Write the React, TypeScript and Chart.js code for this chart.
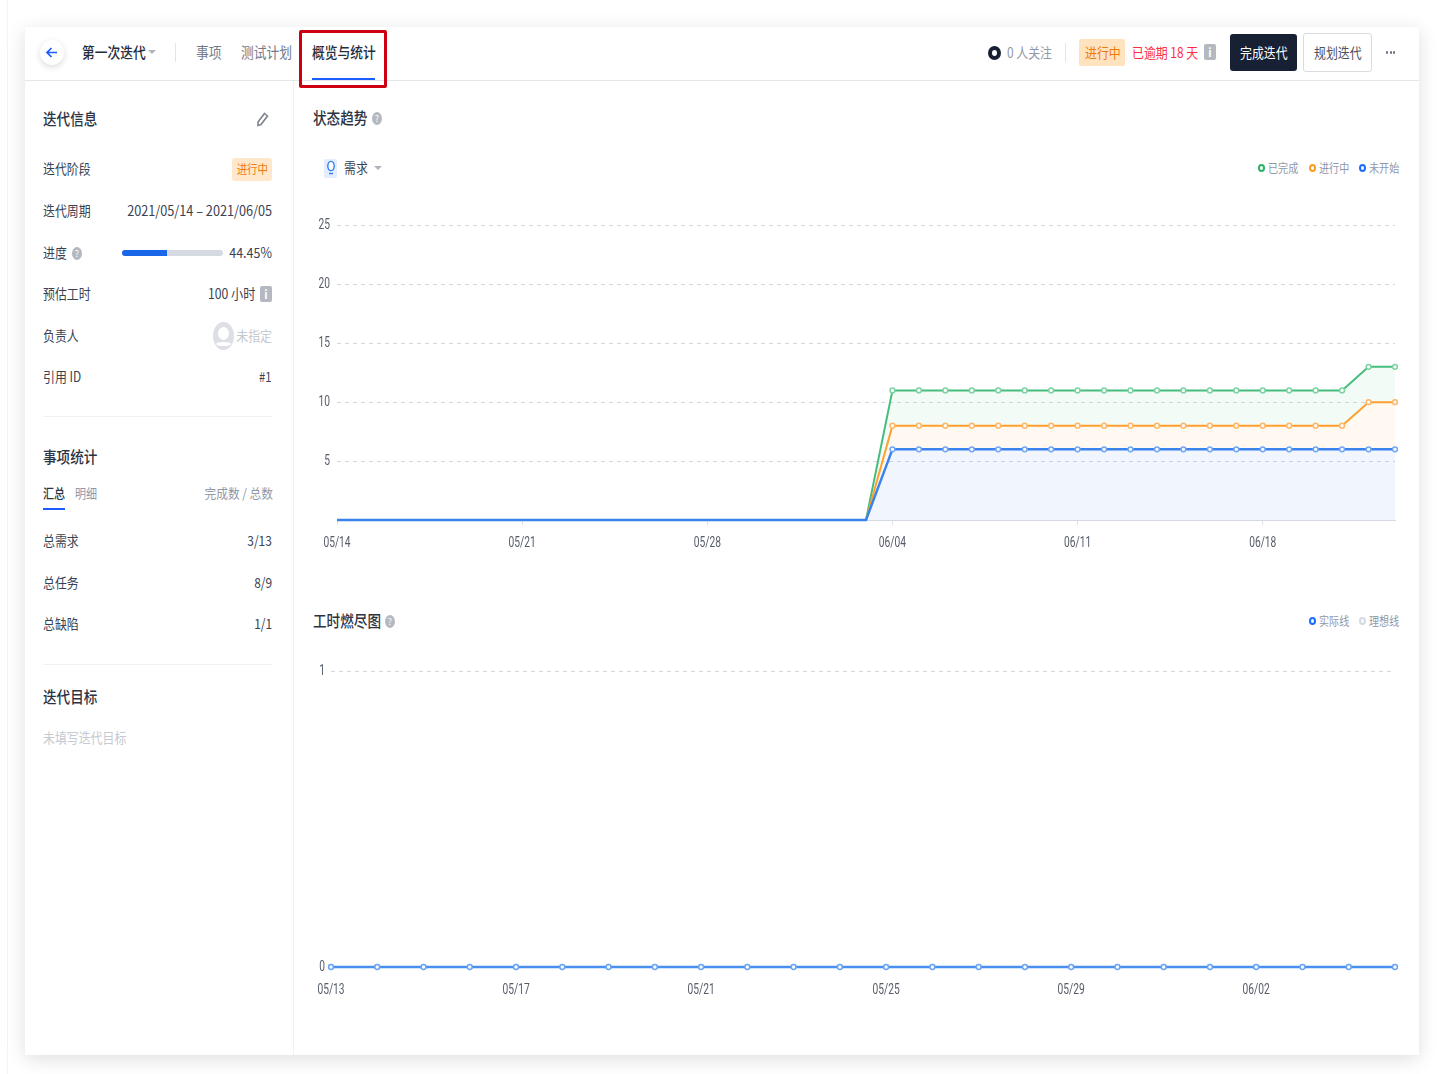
import React, { useEffect, useRef } from "react";
import { Chart, registerables } from "chart.js";

Chart.register(...registerables);

const trendDates = ["05/14","05/15","05/16","05/17","05/18","05/19","05/20","05/21","05/22","05/23","05/24","05/25","05/26","05/27","05/28","05/29","05/30","05/31","06/01","06/02","06/03","06/04","06/05","06/06","06/07","06/08","06/09","06/10","06/11","06/12","06/13","06/14","06/15","06/16","06/17","06/18","06/19","06/20","06/21","06/22","06/23"];
const trendTicks = ["05/14","05/21","05/28","06/04","06/11","06/18"];
const doneValues = [0,0,0,0,0,0,0,0,0,0,0,0,0,0,0,0,0,0,0,0,0,11,11,11,11,11,11,11,11,11,11,11,11,11,11,11,11,11,11,13,13];
const doingValues = [0,0,0,0,0,0,0,0,0,0,0,0,0,0,0,0,0,0,0,0,0,8,8,8,8,8,8,8,8,8,8,8,8,8,8,8,8,8,8,10,10];
const todoValues = [0,0,0,0,0,0,0,0,0,0,0,0,0,0,0,0,0,0,0,0,0,6,6,6,6,6,6,6,6,6,6,6,6,6,6,6,6,6,6,6,6];
const trendYTicks = [5,10,15,20,25];

const burnDates = ["05/13","05/14","05/15","05/16","05/17","05/18","05/19","05/20","05/21","05/22","05/23","05/24","05/25","05/26","05/27","05/28","05/29","05/30","05/31","06/01","06/02","06/03","06/04","06/05"];
const burnTicks = ["05/13","05/17","05/21","05/25","05/29","06/02"];
const actualValues = [0,0,0,0,0,0,0,0,0,0,0,0,0,0,0,0,0,0,0,0,0,0,0,0];
const idealValues = [0,0,0,0,0,0,0,0,0,0,0,0,0,0,0,0,0,0,0,0,0,0,0,0];

const infoRows = [
  { label: "迭代周期", y: 211, value: "2021/05/14 – 2021/06/05", k: 0.905 },
  { label: "引用 ID", y: 377, value: "#1", k: 0.8 },
];
const statRows = [
  { label: "总需求", y: 541, value: "3/13" },
  { label: "总任务", y: 583, value: "8/9" },
  { label: "总缺陷", y: 624, value: "1/1" },
];

const CJK = '"Noto Sans CJK SC", "Noto Sans", sans-serif';
const TICK_FONT = { family: "Roboto, sans-serif", size: 14 };
const TICK_SQUEEZE = 0.73;
const TICK_COLOR = "#555c68";
const GRID = "#d3d7df";

type TP = { x: number; y: number; right?: boolean; size?: number; color?: string; bold?: boolean; k?: number; children: React.ReactNode };
function T({ x, y, right, size = 14, color = "#3a4252", bold, k = 0.85, children }: TP) {
  const style: React.CSSProperties = {
    position: "absolute", top: y - 1, whiteSpace: "nowrap", fontFamily: CJK, fontSize: size, color,
    fontWeight: bold ? 500 : 400, lineHeight: 1,
    transform: `translateY(-50%) scaleX(${k})`,
    transformOrigin: right ? "right center" : "left center",
  };
  if (right) style.right = 1437 - x; else style.left = x;
  return <div style={style}>{children}</div>;
}

function Box({ x, y, w, h, style }: { x: number; y: number; w: number; h: number; style?: React.CSSProperties }) {
  return <div style={{ position: "absolute", left: x, top: y, width: w, height: h, boxSizing: "border-box", ...style }} />;
}
const Ring = ({ x, y, c, s = 7 }: { x: number; y: number; c: string; s?: number }) => (
  <Box x={x - s / 2} y={y - s / 2 - 0.5} w={s} h={s + 1} style={{ border: `2px solid ${c}`, borderRadius: "50%", background: "#fff" }} />
);
const Help = ({ x, y }: { x: number; y: number }) => (
  <div style={{ position: "absolute", left: x - 5, top: y - 6.5, width: 10, height: 13, borderRadius: "50%", background: "#b4b8c0", color: "#fff", fontSize: 9, lineHeight: "13px", textAlign: "center", fontFamily: CJK }}>?</div>
);
const Info = ({ x, y }: { x: number; y: number }) => (
  <div style={{ position: "absolute", left: x, top: y - 8, width: 12, height: 16, borderRadius: 2, background: "#b4b8c0", color: "#fff", fontSize: 11, lineHeight: "16px", textAlign: "center", fontFamily: CJK, fontWeight: 700 }}>i</div>
);
const Caret = ({ x, y }: { x: number; y: number }) => (
  <div style={{ position: "absolute", left: x - 4, top: y - 2, width: 0, height: 0, borderLeft: "4px solid transparent", borderRight: "4px solid transparent", borderTop: "4px solid #b0b5bd" }} />
);
const Line = ({ x, y, w, h, c }: { x: number; y: number; w: number; h: number; c: string }) => <Box x={x} y={y} w={w} h={h} style={{ background: c }} />;

function makeLine(label: string, data: number[], color: string, marker: string, fill: any, bg: string, hideZero: boolean, order: number, width = 2) {
  return {
    label, data, order, borderColor: color, borderWidth: width, tension: 0, fill, backgroundColor: bg,
    pointBackgroundColor: "#fff", pointBorderColor: marker, pointBorderWidth: 1.5,
    pointRadius: hideZero ? (c: any) => (c.parsed && c.parsed.y === 0 ? 0 : 2.4) : 2.4,
    clip: false as any,
  };
}

function useChart(build: () => any) {
  const ref = useRef<HTMLCanvasElement>(null);
  useEffect(() => {
    const ctx: any = ref.current!.getContext("2d");
    // the reference's type is condensed: narrow the tick labels around their anchor
    const fill = ctx.fillText.bind(ctx);
    ctx.fillText = (s: string, x: number, y: number) => {
      ctx.save();
      ctx.translate(x, y);
      ctx.scale(TICK_SQUEEZE, 1);
      fill(s, 0, 0);
      ctx.restore();
    };
    const chart = new Chart(ref.current!, build());
    return () => chart.destroy();
  }, []);
  return ref;
}

const baseOptions = {
  animation: false as const,
  responsive: false,
  plugins: { legend: { display: false }, tooltip: { enabled: false } },
};

function TrendChart() {
  const ref = useChart(() => ({
    type: "line",
    data: {
      labels: trendDates,
      datasets: [
        makeLine("已完成", doneValues, "#46bd7c", "#7bd3a2", "+1", "rgba(43,178,100,0.055)", true, 2),
        makeLine("进行中", doingValues, "#ffa02e", "#ffb765", "+1", "rgba(255,150,30,0.06)", true, 1),
        makeLine("未开始", todoValues, "#3a82ee", "#70a6f5", "origin", "rgba(50,125,235,0.075)", true, 0, 2.4),
      ],
    },
    options: {
      ...baseOptions,
      layout: { padding: { top: 11, right: 15 } },
      scales: {
        x: {
          afterBuildTicks: (s: any) => { s.ticks = s.ticks.filter((t: any) => trendTicks.includes(trendDates[t.value])); },
          afterFit: (s: any) => { s.height = 40; },
          ticks: { autoSkip: false, maxRotation: 0, color: TICK_COLOR, font: TICK_FONT, padding: 10 },
          grid: { drawOnChartArea: false, drawTicks: true, tickLength: 5, tickColor: "#dfe2e8" },
          border: { display: true, color: "#d5d9e2" },
        },
        y: {
          min: 0, max: 25,
          afterBuildTicks: (s: any) => { s.ticks = trendYTicks.map((value) => ({ value })); },
          afterFit: (s: any) => { s.width = 37; },
          ticks: { color: TICK_COLOR, font: TICK_FONT, padding: 7 },
          grid: { color: GRID, drawTicks: false },
          border: { display: false, dash: [4, 4] },
        },
      },
    },
  }));
  return <canvas ref={ref} width={1110} height={350} style={{ position: "absolute", left: 300, top: 210 }} />;
}

function BurnChart() {
  const ref = useChart(() => ({
    type: "line",
    data: {
      labels: burnDates,
      datasets: [
        makeLine("实际线", actualValues, "#4a90f0", "#6aa5f5", false, "transparent", false, 0, 2.6),
        makeLine("理想线", idealValues, "#d5d9e2", "#d5d9e2", false, "transparent", false, 1),
      ],
    },
    options: {
      ...baseOptions,
      layout: { padding: { top: 11, right: 15 } },
      scales: {
        x: {
          afterBuildTicks: (s: any) => { s.ticks = s.ticks.filter((t: any) => burnTicks.includes(burnDates[t.value])); },
          afterFit: (s: any) => { s.height = 53; },
          ticks: { autoSkip: false, maxRotation: 0, color: TICK_COLOR, font: TICK_FONT, padding: 15 },
          grid: { display: false, drawTicks: false },
          border: { display: false },
        },
        y: {
          min: 0, max: 1,
          afterBuildTicks: (s: any) => { s.ticks = [{ value: 0 }, { value: 1 }]; },
          afterFit: (s: any) => { s.width = 35; },
          ticks: { color: TICK_COLOR, font: TICK_FONT, padding: 6 },
          grid: { color: GRID, drawTicks: false },
          border: { display: false, dash: [4, 4] },
        },
      },
    },
  }));
  return <canvas ref={ref} width={1114} height={363} style={{ position: "absolute", left: 296, top: 657 }} />;
}

export default function App() {
  return (
    <div style={{ position: "absolute", left: 0, top: 0, width: 1437, height: 1074, overflow: "hidden", background: "#fff", filter: "blur(0.45px)" }}>
      <Line x={7} y={0} w={1} h={1074} c="#f3f3f3" />
      <Box x={25} y={27} w={1394} h={1028} style={{ background: "#fff", boxShadow: "0 4px 18px rgba(0,0,0,0.13)" }} />

      {/* header */}
      <Line x={25} y={80} w={1394} h={1} c="#e4e6ea" />
      <Box x={40} y={40} w={24} h={25} style={{ borderRadius: "50%", background: "#fff", boxShadow: "0 2px 6px rgba(0,0,0,0.15)" }} />
      <svg style={{ position: "absolute", left: 45, top: 46 }} width={14} height={13} viewBox="0 0 14 13">
        <path d="M12 6.5H2.5M6.5 2L2 6.5L6.5 11" stroke="#1a5cff" strokeWidth={1.7} fill="none" />
      </svg>
      <T x={82} y={52} bold size={15} color="#252d3d">第一次迭代</T>
      <Caret x={152} y={52} />
      <Line x={175} y={43} w={1} h={19} c="#e2e4e8" />
      <T x={196} y={52} size={15} color="#727a89">事项</T>
      <T x={241} y={52} size={15} color="#727a89">测试计划</T>
      <T x={312} y={52} size={15} bold color="#252d3d">概览与统计</T>
      <Line x={312} y={78} w={63} h={2} c="#1a5cff" />
      <Box x={299} y={30} w={88} h={58} style={{ border: "3px solid #cc0011", borderRadius: 2 }} />

      <Box x={988} y={46} w={13} h={14} style={{ border: "4px solid #172133", borderRadius: "50%" }} />
      <T x={1007} y={53} color="#8f97a8">0 人关注</T>
      <Line x={1065} y={43} w={1} h={19} c="#e2e4e8" />
      <Box x={1079} y={39} w={46} h={27} style={{ background: "#ffe3bf", borderRadius: 2 }} />
      <T x={1085} y={53} color="#ee7a0a">进行中</T>
      <T x={1132} y={53} color="#ff2b45">已逾期 18 天</T>
      <Info x={1204} y={52} />
      <Box x={1230} y={34} w={67} h={37} style={{ background: "#172133", borderRadius: 3 }} />
      <T x={1240} y={53} color="#fff">完成迭代</T>
      <Box x={1303} y={33} w={69} h={39} style={{ background: "#fff", border: "1px solid #d8dbe0", borderRadius: 3 }} />
      <T x={1314} y={53} color="#4a5160">规划迭代</T>
      <Box x={1386} y={51} w={2.4} h={2.6} style={{ background: "#6c7382", borderRadius: "50%" }} />
      <Box x={1389.5} y={51} w={2.4} h={2.6} style={{ background: "#6c7382", borderRadius: "50%" }} />
      <Box x={1393} y={51} w={2.4} h={2.6} style={{ background: "#6c7382", borderRadius: "50%" }} />

      {/* left panel */}
      <Line x={293} y={81} w={1} h={974} c="#f0f1f4" />
      <T x={43} y={119} size={16} bold color="#2c3444">迭代信息</T>
      <svg style={{ position: "absolute", left: 256, top: 112 }} width={13} height={15} viewBox="0 0 13 15">
        <path d="M8.5 1.5L11.5 4L5 12.5L2 13.5L2 10Z" stroke="#7d838e" strokeWidth={1.6} fill="none" />
      </svg>

      <T x={43} y={169}>迭代阶段</T>
      <Box x={232} y={158} w={40} h={23} style={{ background: "#ffe7cc", borderRadius: 3 }} />
      <T x={268} y={170} right size={12} color="#ee7a0a" k={0.87}>进行中</T>
      {infoRows.map((r) => (
        <React.Fragment key={r.label}>
          <T x={43} y={r.y}>{r.label}</T>
          <T x={272} y={r.y} right k={r.k}>{r.value}</T>
        </React.Fragment>
      ))}
      <T x={43} y={253}>进度</T>
      <Help x={77} y={253} />
      <Box x={122} y={250} w={101} h={6} style={{ background: "#d5d9e2", borderRadius: 3 }} />
      <Box x={122} y={250} w={45} h={6} style={{ background: "#1a66e8", borderRadius: "3px 0 0 3px" }} />
      <T x={272} y={253} right k={0.89}>44.45%</T>
      <T x={43} y={294}>预估工时</T>
      <T x={255} y={294} right k={0.87}>100 小时</T>
      <Info x={260} y={294} />
      <T x={43} y={336}>负责人</T>
      <Box x={213} y={322} w={21} h={28} style={{ background: "#dcdfe4", borderRadius: "50%" }} />
      <Box x={218} y={327} w={11} h={13} style={{ background: "#fff", borderRadius: "50%" }} />
      <Box x={216} y={342} w={15} h={4} style={{ background: "#fff", borderRadius: "50%" }} />
      <T x={272} y={336} right color="#c5c9d1">未指定</T>

      <Line x={43} y={416} w={229} h={1} c="#f0f1f4" />
      <T x={43} y={457} size={16} bold color="#2c3444">事项统计</T>
      <T x={43} y={493} size={13} bold color="#2c3444">汇总</T>
      <T x={75} y={493} size={13} color="#8f97a8">明细</T>
      <T x={273} y={493} right size={13} k={0.9} color="#8f97a8">完成数 / 总数</T>
      <Line x={43} y={508} w={22} h={2} c="#1a5cff" />
      {statRows.map((r) => (
        <React.Fragment key={r.label}>
          <T x={43} y={r.y}>{r.label}</T>
          <T x={272} y={r.y} right>{r.value}</T>
        </React.Fragment>
      ))}
      <Line x={43} y={664} w={229} h={1} c="#f0f1f4" />
      <T x={43} y={697} size={16} bold color="#2c3444">迭代目标</T>
      <T x={43} y={738} color="#c5c9d1">未填写迭代目标</T>

      {/* chart headers */}
      <T x={313} y={118} size={16} bold color="#2c3444">状态趋势</T>
      <Help x={377} y={118} />
      <Box x={324} y={159} w={13} h={19} style={{ background: "#e3edff", borderRadius: 2 }} />
      <svg style={{ position: "absolute", left: 326, top: 160 }} width={10} height={17} viewBox="0 0 10 17">
        <ellipse cx={5} cy={6} rx={3.2} ry={4.6} stroke="#2f7cf0" strokeWidth={1.4} fill="#fff" />
        <path d="M3 13.5H7" stroke="#2f7cf0" strokeWidth={1.4} />
      </svg>
      <T x={344} y={168}>需求</T>
      <Caret x={378} y={168} />

      <Ring x={1261} y={168} c="#2bb264" />
      <T x={1268} y={169} size={12} k={0.84} color="#8f97a8">已完成</T>
      <Ring x={1312} y={168} c="#ff9a1f" />
      <T x={1319} y={169} size={12} k={0.84} color="#8f97a8">进行中</T>
      <Ring x={1362} y={168} c="#1a6cff" />
      <T x={1369} y={169} size={12} k={0.84} color="#8f97a8">未开始</T>

      <TrendChart />

      <T x={313} y={621} size={16} bold color="#2c3444">工时燃尽图</T>
      <Help x={390} y={621} />
      <Ring x={1312} y={621} c="#1a6cff" />
      <T x={1319} y={622} size={12} k={0.84} color="#8f97a8">实际线</T>
      <Ring x={1362} y={621} c="#d5d9e2" />
      <T x={1369} y={622} size={12} k={0.84} color="#8f97a8">理想线</T>

      <BurnChart />
    </div>
  );
}
